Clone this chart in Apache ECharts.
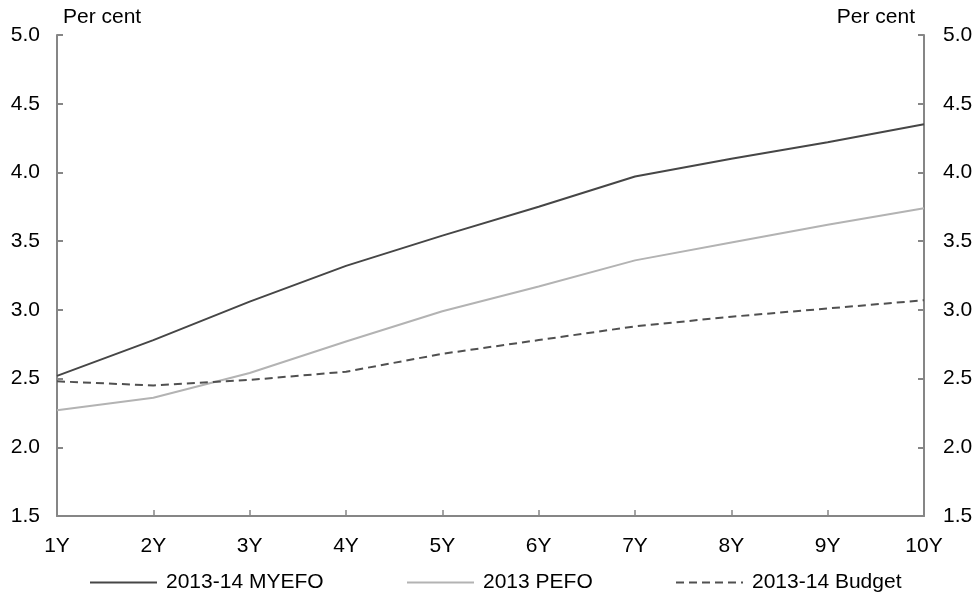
<!DOCTYPE html>
<html>
<head>
<meta charset="utf-8">
<script src="https://cdn.jsdelivr.net/npm/echarts@6/dist/echarts.min.js"></script>
<style>
  html, body { margin: 0; padding: 0; background: #fff; }
  #chart { width: 976px; height: 596px; }
</style>
</head>
<body>
<div id="chart"></div>
<script>
// Bond yield curve by term, per cent
const terms = ['1Y', '2Y', '3Y', '4Y', '5Y', '6Y', '7Y', '8Y', '9Y', '10Y'];
const myefo = [2.52, 2.78, 3.06, 3.32, 3.54, 3.75, 3.97, 4.10, 4.22, 4.35];
const pefo = [2.27, 2.36, 2.54, 2.77, 2.99, 3.17, 3.36, 3.49, 3.62, 3.74];
const budget = [2.48, 2.45, 2.49, 2.55, 2.68, 2.78, 2.88, 2.95, 3.01, 3.07];
const seriesNames = ['2013-14 MYEFO', '2013 PEFO', '2013-14 Budget'];

const FONT = 'Liberation Sans, Arial, sans-serif';
const FONT_SIZE = 21;
const AXIS_GREY = '#868686';
const TICK_LEN = 6;

const chart = echarts.init(document.getElementById('chart'), null, { renderer: 'canvas' });

const Y_MIN = 1.5, Y_MAX = 5.0, Y_STEP = 0.5;

// main value axes: line + labels
function yAxisCfg(position, margin) {
  return {
    type: 'value', position: position,
    min: Y_MIN, max: Y_MAX, interval: Y_STEP,
    axisLine: { show: true, lineStyle: { color: AXIS_GREY, width: 2 } },
    axisTick: { show: false },
    axisLabel: {
      color: '#000', fontFamily: FONT, fontSize: FONT_SIZE, margin: margin,
      formatter: v => v.toFixed(1)
    },
    splitLine: { show: false }
  };
}

// companion axes shifted into the plot so their ticks point inward
function yTickAxisCfg(position) {
  return {
    type: 'value', position: position, offset: -TICK_LEN,
    min: Y_MIN, max: Y_MAX, interval: Y_STEP,
    axisLine: { show: false },
    axisTick: { show: true, length: TICK_LEN, lineStyle: { color: AXIS_GREY, width: 2 } },
    axisLabel: { show: false },
    splitLine: { show: false }
  };
}

function legendCfg(name, left) {
  return {
    data: [name],
    left: left,
    top: 572,
    padding: 0,
    itemWidth: 67,
    itemHeight: 12,
    itemGap: 0,
    itemStyle: { opacity: 0 },
    textStyle: { color: '#000', fontFamily: FONT, fontSize: FONT_SIZE, padding: [0, 0, 0, 4] }
  };
}

chart.setOption({
  animation: false,
  backgroundColor: '#fff',
  grid: { left: 57, right: 52, top: 35, bottom: 80, containLabel: false },
  xAxis: [
    {
      type: 'category', data: terms, boundaryGap: false,
      axisLine: { show: true, lineStyle: { color: AXIS_GREY, width: 2 } },
      axisTick: { show: false },
      axisLabel: { color: '#000', fontFamily: FONT, fontSize: FONT_SIZE, margin: 20 },
      splitLine: { show: false }
    },
    {
      type: 'category', data: terms, boundaryGap: false, position: 'bottom', offset: -TICK_LEN,
      axisLine: { show: false },
      axisTick: { show: true, length: TICK_LEN, alignWithLabel: true, lineStyle: { color: AXIS_GREY, width: 1.5 } },
      axisLabel: { show: false },
      splitLine: { show: false }
    }
  ],
  yAxis: [yAxisCfg('left', 17), yAxisCfg('right', 19), yTickAxisCfg('left'), yTickAxisCfg('right')],
  legend: [
    legendCfg(seriesNames[0], 89),
    legendCfg(seriesNames[1], 406),
    legendCfg(seriesNames[2], 675)
  ],
  graphic: [
    { type: 'text', left: 63, top: 7, style: { text: 'Per cent', fill: '#000', font: FONT_SIZE + 'px ' + FONT } },
    { type: 'text', right: 61, top: 7, style: { text: 'Per cent', fill: '#000', font: FONT_SIZE + 'px ' + FONT } }
  ],
  series: [
    {
      name: seriesNames[0], type: 'line', data: myefo, symbol: 'none',
      lineStyle: { color: '#464646', width: 2 }, itemStyle: { color: '#464646' }
    },
    {
      name: seriesNames[1], type: 'line', data: pefo, symbol: 'none',
      lineStyle: { color: '#b3b3b3', width: 2 }, itemStyle: { color: '#b3b3b3' }
    },
    {
      name: seriesNames[2], type: 'line', data: budget, symbol: 'none',
      lineStyle: { color: '#505050', width: 2, type: [8, 5] }, itemStyle: { color: '#505050' }
    }
  ]
});
</script>
</body>
</html>
